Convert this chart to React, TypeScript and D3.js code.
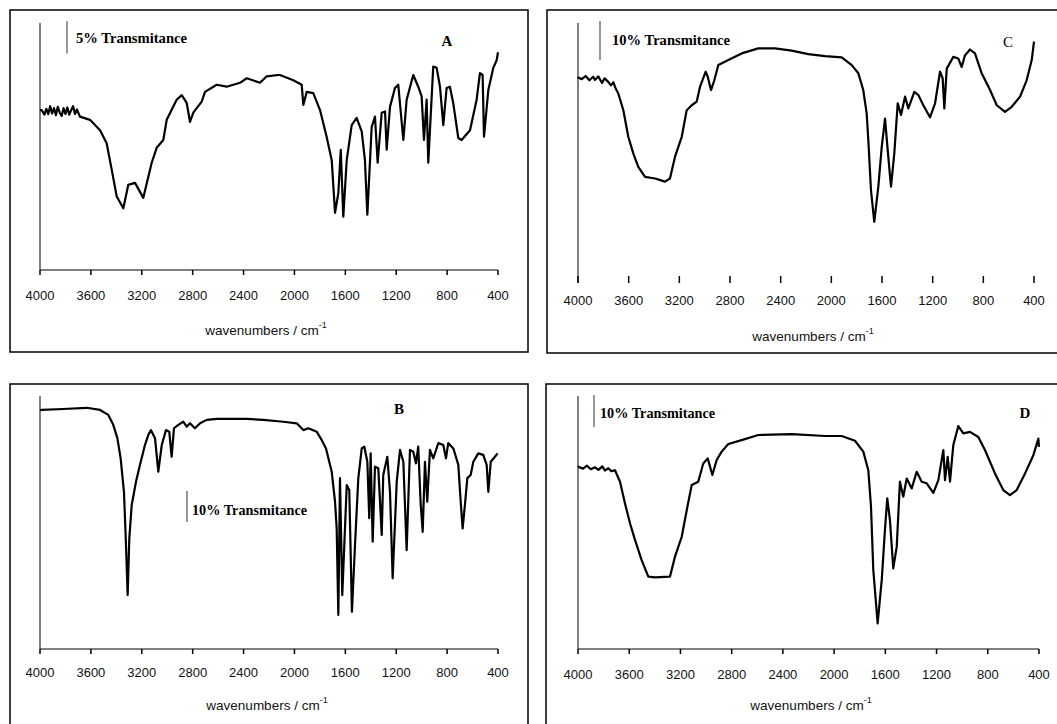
import React from "react";
import * as d3 from "d3";

const wavenumberTicks = [4000, 3600, 3200, 2800, 2400, 2000, 1600, 1200, 800, 400];

// [wavenumber / cm-1, relative transmittance / %]
const spectrumA: [number, number][] = [
  [4000, 24.6], [3987, 24.6], [3965, 23.9], [3950, 24.8], [3935, 24.0], [3920, 25.2], [3905, 24.1],
  [3890, 24.9], [3875, 23.8], [3860, 25.1], [3845, 24.2], [3830, 23.7], [3815, 24.9], [3800, 24.0],
  [3785, 25.0], [3770, 23.9], [3755, 24.6], [3740, 25.2], [3725, 24.0], [3710, 24.7], [3686, 23.6],
  [3607, 23.1], [3528, 21.5], [3476, 19.5], [3436, 15.4], [3397, 11.3], [3345, 9.5], [3306, 13.1],
  [3253, 13.4], [3188, 11.1], [3122, 16.5], [3083, 18.8], [3031, 20.0], [3004, 23.1], [2926, 26.2],
  [2886, 26.9], [2847, 25.7], [2821, 22.8], [2795, 24.2], [2729, 25.9], [2703, 27.4], [2611, 28.5],
  [2533, 28.2], [2428, 28.8], [2375, 29.5], [2271, 28.8], [2218, 29.8], [2129, 30.0], [2114, 30.0],
  [2009, 29.2], [1943, 28.5], [1930, 25.4], [1904, 27.4], [1852, 27.2], [1799, 24.6], [1747, 20.5],
  [1707, 16.9], [1681, 8.8], [1655, 11.8], [1636, 18.5], [1616, 8.2], [1589, 16.9], [1550, 22.3],
  [1511, 23.4], [1471, 21.3], [1446, 16.9], [1427, 8.5], [1393, 22.0], [1367, 23.6], [1346, 16.5],
  [1314, 24.2], [1288, 24.4], [1275, 18.5], [1249, 25.1], [1210, 28.0], [1184, 28.5], [1144, 20.0],
  [1118, 26.2], [1066, 30.0], [1027, 28.2], [1000, 26.7], [982, 20.0], [961, 26.2], [948, 16.5],
  [909, 31.3], [882, 31.1], [856, 28.2], [830, 22.3], [804, 28.0], [778, 28.2], [752, 25.7],
  [712, 20.3], [686, 20.0], [620, 21.5], [568, 26.2], [542, 30.3], [521, 30.0], [510, 20.5],
  [476, 27.7], [437, 31.1], [410, 32.3], [400, 33.5],
];

const spectrumB: [number, number][] = [
  [4000, 77.0], [3987, 77.1], [3817, 77.4], [3633, 77.8], [3528, 77.1], [3463, 75.5], [3424, 72.3],
  [3392, 68.0], [3366, 61.5], [3340, 50.7], [3326, 35.7], [3311, 17.4], [3298, 35.7], [3279, 46.5],
  [3245, 54.0], [3214, 59.4], [3175, 65.8], [3149, 69.0], [3128, 70.6], [3096, 68.0], [3070, 57.2],
  [3043, 65.8], [3010, 70.6], [2984, 70.1], [2965, 62.0], [2947, 71.2], [2913, 72.3], [2874, 73.3],
  [2847, 71.7], [2821, 72.8], [2782, 71.2], [2742, 72.8], [2690, 73.9], [2611, 74.2], [2507, 74.2],
  [2375, 74.2], [2245, 73.9], [2088, 73.3], [1982, 72.8], [1930, 70.6], [1891, 71.2], [1825, 70.1],
  [1786, 67.4], [1752, 64.7], [1707, 57.2], [1681, 47.5], [1668, 38.9], [1655, 11.0], [1642, 55.1],
  [1624, 17.4], [1589, 52.9], [1569, 51.3], [1548, 12.0], [1524, 33.5], [1498, 55.1], [1471, 64.7],
  [1451, 65.3], [1427, 60.4], [1412, 42.2], [1401, 63.1], [1385, 34.6], [1367, 58.8], [1341, 58.3],
  [1314, 36.8], [1302, 56.1], [1270, 62.0], [1249, 50.7], [1228, 22.8], [1196, 54.0], [1170, 64.2],
  [1144, 60.4], [1118, 31.9], [1092, 64.2], [1066, 63.6], [1045, 59.9], [1027, 65.3], [1008, 47.0],
  [992, 37.8], [974, 60.4], [956, 47.5], [935, 64.2], [909, 61.5], [869, 66.4], [830, 65.8],
  [809, 61.5], [791, 66.4], [751, 64.7], [712, 59.4], [693, 47.5], [678, 38.9], [660, 46.5],
  [641, 55.1], [615, 56.1], [594, 60.4], [555, 63.1], [516, 62.6], [489, 59.4], [476, 50.7],
  [457, 60.4], [424, 62.0], [403, 63.1],
];

const spectrumC: [number, number][] = [
  [4000, 52.0], [3998, 52.2], [3970, 51.8], [3940, 52.6], [3910, 51.5], [3880, 52.4], [3866, 51.6],
  [3840, 52.5], [3810, 50.8], [3790, 52.0], [3761, 51.1], [3740, 50.2], [3720, 51.0], [3708, 49.8],
  [3682, 48.1], [3642, 43.8], [3603, 37.0], [3563, 32.7], [3524, 29.3], [3471, 26.7], [3392, 26.3],
  [3313, 25.5], [3274, 26.3], [3234, 31.9], [3181, 37.0], [3142, 43.8], [3102, 45.1], [3063, 46.0],
  [3037, 49.8], [2992, 53.7], [2976, 52.4], [2950, 49.0], [2924, 51.5], [2892, 55.4], [2813, 56.7],
  [2708, 58.4], [2577, 59.7], [2445, 59.7], [2313, 59.1], [2182, 58.2], [2050, 57.7], [1918, 57.4],
  [1839, 55.4], [1787, 53.3], [1748, 49.0], [1721, 43.0], [1708, 36.2], [1687, 23.3], [1661, 15.2],
  [1629, 24.2], [1602, 34.4], [1576, 41.7], [1555, 33.6], [1529, 24.2], [1503, 32.7], [1476, 45.6],
  [1450, 42.6], [1418, 47.3], [1392, 44.3], [1345, 48.5], [1313, 47.7], [1274, 45.1], [1221, 42.0],
  [1181, 45.6], [1142, 53.7], [1121, 52.0], [1108, 44.3], [1089, 54.5], [1037, 57.5], [998, 57.1],
  [971, 54.9], [945, 57.9], [905, 59.4], [866, 58.4], [813, 53.3], [747, 49.0], [694, 45.1],
  [629, 43.4], [576, 44.7], [510, 47.3], [458, 51.5], [418, 56.7], [400, 61.4],
];

const spectrumD: [number, number][] = [
  [4000, 56.9], [3998, 57.0], [3960, 56.4], [3930, 57.3], [3900, 56.2], [3867, 56.8], [3840, 56.0],
  [3810, 57.1], [3790, 55.8], [3763, 56.5], [3740, 55.6], [3711, 55.9], [3672, 52.3], [3633, 45.5],
  [3594, 39.3], [3555, 34.1], [3503, 27.8], [3451, 22.6], [3399, 22.4], [3282, 22.6], [3243, 28.8],
  [3190, 35.1], [3151, 43.4], [3112, 51.3], [3061, 52.3], [3022, 58.0], [2987, 59.6], [2951, 54.4],
  [2917, 59.1], [2878, 61.7], [2826, 64.1], [2722, 65.3], [2592, 66.9], [2331, 67.2], [2071, 66.6],
  [1941, 66.6], [1837, 65.1], [1772, 61.7], [1733, 55.9], [1712, 44.5], [1694, 24.7], [1660, 8.0],
  [1628, 21.6], [1603, 37.2], [1585, 47.1], [1564, 40.3], [1538, 25.2], [1511, 32.0], [1486, 52.3],
  [1460, 47.6], [1433, 53.3], [1394, 50.2], [1355, 55.4], [1316, 52.3], [1277, 51.8], [1225, 48.8],
  [1186, 52.8], [1147, 62.2], [1134, 52.8], [1113, 60.1], [1095, 52.3], [1069, 63.8], [1030, 69.7],
  [991, 67.4], [939, 67.9], [874, 66.3], [822, 62.2], [744, 54.9], [679, 49.7], [627, 48.1],
  [574, 49.7], [509, 54.9], [444, 60.6], [405, 65.8], [400, 63.2],
];

const panels = [
  {
    letter: "A", letterBold: true, data: spectrumA,
    frame: [10, 10, 518, 342], x0: 40, x1: 498, yTop: 23, yBottom: 270, yMax: 38,
    axisLine: true, tickFrom: 270, tickTo: 275, tickLabelY: 295, titleX: 266, titleY: 330,
    bar: { pct: 5, x: 67, y: 21, textX: 76, textY: 43, textW: 111, label: "5% Transmitance" },
    letterPos: [447, 46],
  },
  {
    letter: "C", letterBold: false, data: spectrumC,
    frame: [547, 10, 520, 343], x0: 578, x1: 1034, yTop: 23, yBottom: 281, yMax: 66.2,
    axisLine: false, tickFrom: 276, tickTo: 283, tickLabelY: 300, titleX: 813, titleY: 336,
    bar: { pct: 10, x: 600, y: 21, textX: 612, textY: 45, textW: 118, label: "10% Transmitance" },
    letterPos: [1008, 47],
  },
  {
    letter: "B", letterBold: true, data: spectrumB,
    frame: [10, 384, 518, 360], x0: 40, x1: 498, yTop: 396, yBottom: 649, yMax: 81.6,
    axisLine: true, tickFrom: 649, tickTo: 654, tickLabelY: 672, titleX: 267, titleY: 705,
    bar: { pct: 10, x: 187, y: 491, textX: 192, textY: 515, textW: 115, label: "10% Transmitance" },
    letterPos: [399, 414],
  },
  {
    letter: "D", letterBold: true, data: spectrumD,
    frame: [546, 384, 520, 360], x0: 578, x1: 1039, yTop: 396, yBottom: 649, yMax: 79.1,
    axisLine: true, tickFrom: 649, tickTo: 654, tickLabelY: 674, titleX: 811, titleY: 705,
    bar: { pct: 10, x: 594, y: 395, textX: 600, textY: 418, textW: 115, label: "10% Transmitance" },
    letterPos: [1025, 418],
  },
];

const sans = "'Liberation Sans', Arial, sans-serif";
const serif = "'Liberation Serif', 'Times New Roman', serif";

const Panel = ({ p }: { p: (typeof panels)[number] }) => {
  const x = d3.scaleLinear().domain([4000, 400]).range([p.x0, p.x1]);
  const y = d3.scaleLinear().domain([0, p.yMax]).range([p.yBottom, p.yTop]);
  const line = d3
    .line<[number, number]>()
    .x((d) => x(d[0]))
    .y((d) => y(d[1]));
  const barLen = y(0) - y(p.bar.pct);
  const [fx, fy, fw, fh] = p.frame;

  return (
    <g>
      <rect x={fx} y={fy} width={fw} height={fh} fill="white" stroke="#000" strokeWidth={1.5} />
      <line x1={p.x0} x2={p.x0} y1={p.yTop} y2={p.axisLine ? p.yBottom : p.tickTo} stroke="#000" />
      {p.axisLine && <line x1={p.x0} x2={p.x1} y1={p.yBottom} y2={p.yBottom} stroke="#000" />}
      {wavenumberTicks.map((t) => (
        <g key={t}>
          <line x1={x(t)} x2={x(t)} y1={p.tickFrom} y2={p.tickTo} stroke="#000" strokeWidth={1.5} />
          <text
            x={x(t)}
            y={p.tickLabelY}
            dy="0.35em"
            textAnchor="middle"
            fontFamily={sans}
            fontSize={13}
            fill="#111"
          >
            {t}
          </text>
        </g>
      ))}
      <text x={p.titleX} y={p.titleY} dy="0.35em" textAnchor="middle" fontFamily={sans} fontSize={13.5} fill="#111">
        wavenumbers / cm
        <tspan fontSize={9} dy="-0.7em">-1</tspan>
      </text>
      <line
        x1={p.bar.x}
        x2={p.bar.x}
        y1={p.bar.y}
        y2={p.bar.y + barLen}
        stroke="#777"
        strokeWidth={1.5}
      />
      <text
        x={p.bar.textX}
        y={p.bar.textY}
        fontFamily={serif}
        fontWeight="bold"
        fontSize={14}
        textLength={p.bar.textW}
        lengthAdjust="spacingAndGlyphs"
        fill="#000"
      >
        {p.bar.label}
      </text>
      <text
        x={p.letterPos[0]}
        y={p.letterPos[1]}
        textAnchor="middle"
        fontFamily={serif}
        fontWeight={p.letterBold ? "bold" : "normal"}
        fontSize={15}
        fill="#000"
      >
        {p.letter}
      </text>
      <path d={line(p.data) ?? ""} fill="none" stroke="#000" strokeWidth={2.2} strokeLinejoin="round" />
    </g>
  );
};

export default function App() {
  return (
    <svg
      width={1057}
      height={724}
      style={{ position: "absolute", left: 0, top: 0, background: "white" }}
    >
      {panels.map((p) => (
        <Panel key={p.letter} p={p} />
      ))}
    </svg>
  );
}
